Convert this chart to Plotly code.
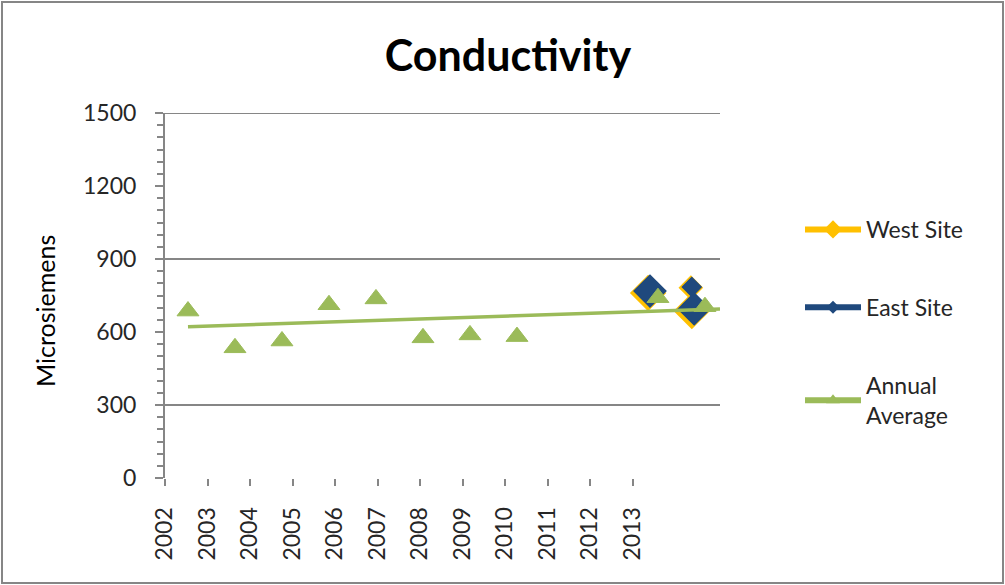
import plotly.graph_objects as go

# ---------------- data ----------------
year_labels = ["2002", "2003", "2004", "2005", "2006", "2007",
               "2008", "2009", "2010", "2011", "2012", "2013"]

avg_years = [2002, 2003, 2004, 2005, 2006, 2007, 2008, 2009, 2012, 2013]
avg_values = [686, 535, 563, 712, 736, 576, 588, 581, 741, 704]

west_years = [2011.79, 2012.70, 2012.72]
west_values = [760, 782, 686]

east_years = [2011.83, 2012.72, 2012.77]
east_values = [768, 785, 695]

trend_years = [2002.0, 2013.32]
trend_values = [622, 695]

# ---------------- styling ----------------
FONT = "Lato, 'Liberation Sans', sans-serif"
GREEN = "#9BBB59"
BLUE = "#1F497D"
GOLD = "#FFC000"
GRID = "#868686"
TXT = "#262626"

# plot area pixels (for the label axis mapping)
L, R, T, B = 165, 720, 113, 478
W, H = 1005, 585
x_left = 2001.511
x_right = 2013.32
px_per_unit = (R - L) / (x_right - x_left)
# category labels are spaced 42.5 px apart starting at the left edge
tick_pos = [x_left + 1e-6 + (42.5 * i) / px_per_unit for i in range(len(year_labels))]

fig = go.Figure()

# data traces
fig.add_trace(go.Scatter(
    x=west_years, y=west_values, mode="markers", showlegend=False,
    marker=dict(symbol="diamond", size=[28, 19, 28], color=GOLD, opacity=1,
                line=dict(width=0)),
    name="West Site"))
fig.add_trace(go.Scatter(
    x=east_years, y=east_values, mode="markers", showlegend=False,
    marker=dict(symbol="diamond", size=[26, 16, 26], color=BLUE, opacity=1,
                line=dict(width=0)),
    name="East Site"))
fig.add_trace(go.Scatter(
    x=avg_years, y=avg_values, mode="markers", showlegend=False,
    marker=dict(symbol="triangle-up", size=19, color=GREEN, opacity=1,
                line=dict(width=1, color=GREEN)),
    name="Annual Average"))
fig.add_trace(go.Scatter(
    x=trend_years, y=trend_values, mode="lines", showlegend=False,
    line=dict(color=GREEN, width=3.5), hoverinfo="skip"))

# legend entries
fig.add_trace(go.Scatter(
    x=[None], y=[None], mode="lines+markers", name="West Site",
    line=dict(color=GOLD, width=6),
    marker=dict(symbol="diamond", size=14, color=GOLD), legendgroup="w"))
fig.add_trace(go.Scatter(
    x=[None], y=[None], mode="lines+markers", name="East Site",
    line=dict(color=BLUE, width=6),
    marker=dict(symbol="diamond", size=10, color=BLUE), legendgroup="e"))
fig.add_trace(go.Scatter(
    x=[None], y=[None], mode="lines+markers", name="Annual<br>Average",
    line=dict(color=GREEN, width=6),
    marker=dict(symbol="triangle-up", size=12, color=GREEN), legendgroup="a"))

# gridlines (only these appear in the picture)
for gv in [300, 900, 1500]:
    fig.add_shape(type="line", xref="paper", yref="y", x0=0, x1=1, y0=gv, y1=gv,
                  line=dict(color=GRID, width=2), layer="below")

# outer chart border
fig.add_shape(type="rect", xref="paper", yref="paper",
              x0=(2 - L) / (R - L), x1=(1003 - L) / (R - L),
              y0=(B - 583) / (B - T), y1=(B - 2) / (B - T),
              line=dict(color=GRID, width=2))

# y-axis title (placed as in the picture, slightly below the plot centre)
fig.add_annotation(text="Microsiemens", textangle=-90, showarrow=False,
                   xref="paper", yref="paper",
                   x=(45 - L) / (R - L), y=(B - 311) / (B - T),
                   xanchor="center", yanchor="middle",
                   font=dict(family=FONT, size=25, color="#000000"))

fig.update_layout(
    width=W, height=H,
    margin=dict(l=L, r=W - R, t=T, b=H - B, autoexpand=False),
    paper_bgcolor="white", plot_bgcolor="white",
    font=dict(family=FONT, size=23, color=TXT),
    title=dict(text="<b>Conductivity</b>", x=(508) / W, xanchor="center",
               y=1 - 56 / H, yanchor="middle",
               font=dict(family=FONT, size=43, color="#000000")),
    showlegend=True,
    legend=dict(x=(800 - L) / (R - L), xanchor="left", y=(B - 208) / (B - T),
                yanchor="top", tracegroupgap=45, itemwidth=56,
                font=dict(family=FONT, size=23, color=TXT),
                bgcolor="rgba(0,0,0,0)"),
)

fig.update_xaxes(
    range=[x_left, x_right], showgrid=False, zeroline=False, showline=False,
    tickmode="array", tickvals=tick_pos, ticktext=year_labels,
    tickangle=-90, ticks="outside", ticklen=7, tickwidth=1.5, tickcolor=GRID,
    ticklabelstandoff=12, tickfont=dict(family=FONT, size=23, color=TXT),
    automargin=False,
)
fig.update_yaxes(
    range=[0, 1500], showgrid=False, zeroline=False,
    showline=True, linecolor=GRID, linewidth=2,
    tickmode="array", tickvals=[0, 300, 600, 900, 1200, 1500],
    ticks="outside", ticklen=8, tickwidth=2, tickcolor=GRID,
    minor=dict(ticks="outside", ticklen=6, tickwidth=1.5, tickcolor=GRID, dtick=50,
               showgrid=False),
    ticklabelstandoff=14, tickfont=dict(family=FONT, size=23, color=TXT),
    automargin=False,
)

fig.write_html("out.html", config={"displayModeBar": False},
               post_script="document.body.style.margin='0px';")
